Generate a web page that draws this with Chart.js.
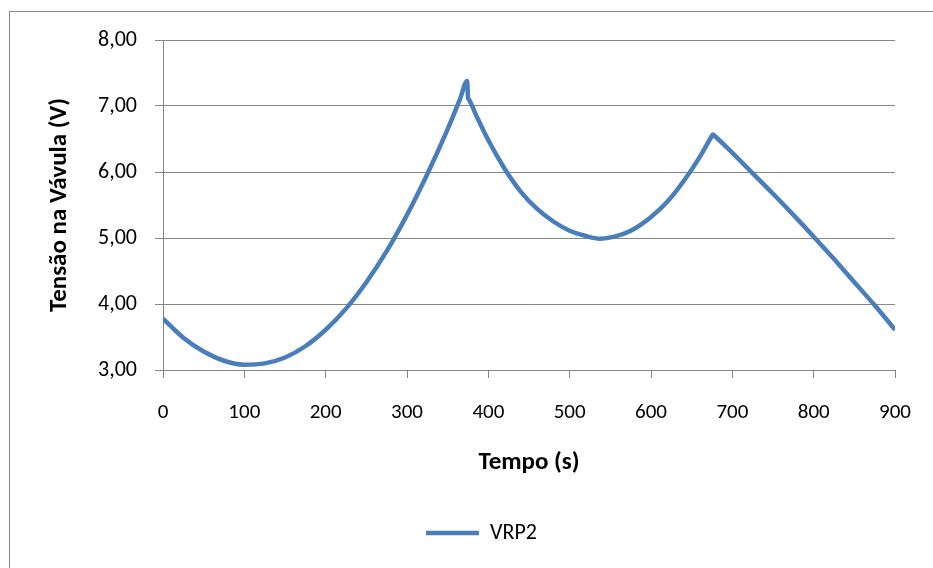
<!DOCTYPE html>
<html>
<head>
<meta charset="utf-8">
<script src="https://cdn.jsdelivr.net/npm/chart.js@4"></script>
<style>
  body { margin: 0; background: #fff; overflow: hidden; }
  #frame {
    position: absolute; left: 9px; top: 11px;
    width: 1000px; height: 640px;
    border: 1px solid #8a8a8a;
  }
  #chart { position: absolute; left: 0; top: 0; }
</style>
</head>
<body>
<div id="frame"></div>
<canvas id="chart" width="933" height="568"></canvas>
<script>
// valve voltage over time
const seriesName = "VRP2";
const times = [
  0, 25, 50, 75, 100, 125, 150, 175, 200, 225, 250, 275, 300, 325, 350, 365, 374,
  375, 376, 385, 400, 420, 440, 460, 480, 500, 520, 537,
  555, 575, 600, 620, 640, 660, 674, 676, 678,
  700, 725, 750, 775, 800, 825, 850, 875, 900,
];
const volts = [
  3.78, 3.49, 3.28, 3.14, 3.08, 3.10, 3.19, 3.36, 3.61, 3.93, 4.33, 4.80, 5.35, 5.97, 6.65, 7.10, 7.38,
  7.13, 7.10, 6.86, 6.48, 6.05, 5.70, 5.44, 5.25, 5.11, 5.03, 4.99,
  5.02, 5.11, 5.32, 5.55, 5.86, 6.23, 6.53, 6.57, 6.55,
  6.29, 5.98, 5.67, 5.35, 5.02, 4.68, 4.33, 3.98, 3.61,
];
const xTicks = [0, 100, 200, 300, 400, 500, 600, 700, 800, 900];
const yTicks = [3, 4, 5, 6, 7, 8];

const FONT = "Carlito, Calibri, Lato, sans-serif";
const GRID = "#868686";
const BLUE = "#4a7ebb";

const points = times.map((t, i) => ({ x: t, y: volts[i] }));

// nudge the legend so it sits under the plot like the original sheet
const legendShift = {
  id: "legendShift",
  afterLayout(chart) {
    chart.legend.left += 30;
    chart.legend.right += 30;
  },
};

new Chart(document.getElementById("chart"), {
  type: "line",
  data: {
    datasets: [
      {
        label: seriesName,
        data: points,
        borderColor: BLUE,
        backgroundColor: BLUE,
        borderWidth: 4.5,
        pointRadius: 0,
        cubicInterpolationMode: "monotone",
      },
    ],
  },
  options: {
    responsive: false,
    animation: false,
    layout: { padding: { top: 40, right: 30, left: 0, bottom: 14 } },
    plugins: {
      tooltip: { enabled: false },
      legend: {
        position: "bottom",
        labels: {
          usePointStyle: true,
          pointStyle: "line",
          pointStyleWidth: 53,
          padding: 14,
          color: "#000",
          font: { family: FONT, size: 22 },
        },
      },
    },
    scales: {
      x: {
        type: "linear",
        min: 0,
        max: 900,
        afterFit: (s) => { s.height = 138; },
        afterBuildTicks: (s) => { s.ticks = xTicks.map((v) => ({ value: v })); },
        border: { color: GRID, width: 1 },
        grid: { drawOnChartArea: false, drawTicks: true, tickLength: 8, color: GRID },
        ticks: {
          padding: 22,
          color: "#000",
          maxRotation: 0,
          font: { family: FONT, size: 21 },
        },
        title: {
          display: true,
          text: "Tempo (s)",
          color: "#000",
          font: { family: FONT, size: 25, weight: "bold" },
          padding: { top: 0, bottom: 30 },
        },
      },
      y: {
        min: 3,
        max: 8,
        afterFit: (s) => { s.width = 163; },
        afterBuildTicks: (s) => { s.ticks = yTicks.map((v) => ({ value: v })); },
        border: { color: GRID, width: 1 },
        grid: { color: GRID, lineWidth: 1, tickLength: 8 },
        ticks: {
          padding: 18,
          color: "#000",
          font: { family: FONT, size: 22 },
          callback: (v) => v.toFixed(2).replace(".", ","),
        },
        title: {
          display: true,
          text: "Tensão na Vávula (V)",
          color: "#000",
          font: { family: FONT, size: 25, weight: "bold" },
          padding: { top: 45, bottom: 0 },
        },
      },
    },
  },
  plugins: [legendShift],
});
</script>
</body>
</html>
